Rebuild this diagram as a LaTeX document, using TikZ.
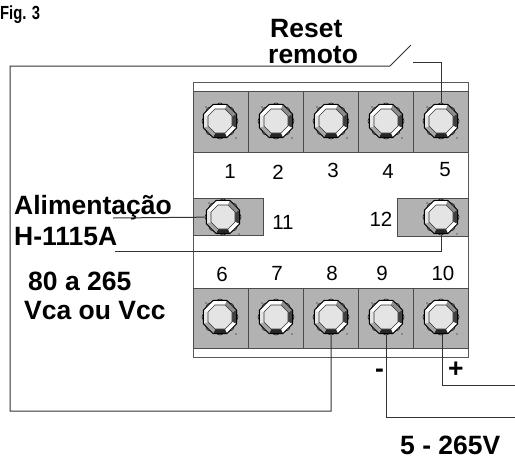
\documentclass[tikz,border=0pt]{standalone}
\usepackage{fontspec}
\setmainfont{Liberation Sans}
\usetikzlibrary{shapes.geometric}
\definecolor{cellgray}{HTML}{B2B2B2}
\definecolor{capgray}{HTML}{E4E4E4}
\tikzset{
  wire/.style={line width=1pt,color=black!80},
  outerbox/.style={line width=1pt,color=black!65},
  cell/.style={line width=1pt,draw=black!70,fill=cellgray},
  biglabel/.style={anchor=base west,font=\bfseries\fontsize{26.5}{30}\selectfont,inner sep=0},
  numlabel/.style={font=\fontsize{20.5}{24}\selectfont,inner sep=0},
  terminal/.pic={
    \node [regular polygon,regular polygon sides=8,shape border rotate=22.5,
      minimum size=36pt,inner sep=0,draw=black,line width=0.6pt,fill=white] (-c) at (0,0) {};
    \fill [black!75] (-22.5:17.5) -- (22.5:17.5) -- (22.5:13) -- (-22.5:13) -- cycle;
    \fill [white] (22.5:17.5) -- (67.5:17.5) -- (67.5:13) -- (22.5:13) -- cycle;
    \fill [black!85] (67.5:17.5) -- (112.5:17.5) -- (112.5:13) -- (67.5:13) -- cycle;
    \fill [black!35] (112.5:17.5) -- (157.5:17.5) -- (157.5:13) -- (112.5:13) -- cycle;
    \fill [black!10] (157.5:17.5) -- (202.5:17.5) -- (202.5:13) -- (157.5:13) -- cycle;
    \fill [white] (202.5:17.5) -- (247.5:17.5) -- (247.5:13) -- (202.5:13) -- cycle;
    \fill [white] (247.5:17.5) -- (292.5:17.5) -- (292.5:13) -- (247.5:13) -- cycle;
    \fill [black!45] (292.5:17.5) -- (337.5:17.5) -- (337.5:13) -- (292.5:13) -- cycle;
    \draw [fill=capgray,line width=0.6pt,draw=black!80] (22.5:13) -- (67.5:13) -- (112.5:13) -- (157.5:13)
      -- (202.5:13) -- (247.5:13) -- (292.5:13) -- (337.5:13) -- cycle;
    \draw [line width=0.8pt] (22.5:18) -- (67.5:18) -- (112.5:18) -- (157.5:18)
      -- (202.5:18) -- (247.5:18) -- (292.5:18) -- (337.5:18) -- cycle;
    \fill (-14,-14) circle [radius=0.7];
    \fill (16,17) circle [radius=0.7];
  }
}

\begin{document}
\begin{tikzpicture}[x=1pt,y=-1pt]
\useasboundingbox (0,0) rectangle (515,459);
\draw [outerbox] (193,82) rectangle (468,357);
\draw [cell] (193,91) rectangle (248,152);
\draw [cell] (248,91) rectangle (303,152);
\draw [cell] (303,91) rectangle (358,152);
\draw [cell] (358,91) rectangle (413,152);
\draw [cell] (413,91) rectangle (468,152);
\draw [cell] (193,198) rectangle (263,235);
\draw [cell] (397,198) rectangle (468,236);
\draw [cell] (193,288) rectangle (248,348);
\draw [cell] (248,288) rectangle (303,348);
\draw [cell] (303,288) rectangle (358,348);
\draw [cell] (358,288) rectangle (413,348);
\draw [cell] (413,288) rectangle (468,348);
\pic (t1) at (220,121) {terminal};
\pic (t2) at (276,121) {terminal};
\pic (t3) at (331,121) {terminal};
\pic (t4) at (386,121) {terminal};
\pic (t5) at (441,121) {terminal};
\pic (t11) at (223,217) {terminal};
\pic (t12) at (441,217) {terminal};
\pic (t6) at (220,317) {terminal};
\pic (t7) at (276,317) {terminal};
\pic (t8) at (331,317) {terminal};
\pic (t9) at (386,317) {terminal};
\pic (t10) at (441,317) {terminal};
\node [numlabel] (n1) at (230,171) {1};
\node [numlabel] (n2) at (278,172) {2};
\node [numlabel] (n3) at (333,170) {3};
\node [numlabel] (n4) at (388,171) {4};
\node [numlabel] (n5) at (445,170) {5};
\node [numlabel] (n6) at (222,274) {6};
\node [numlabel] (n7) at (277,273) {7};
\node [numlabel] (n8) at (332,273) {8};
\node [numlabel] (n9) at (382,273) {9};
\node [numlabel] (n10) at (443,273) {10};
\node [numlabel] (n11) at (283,222) {11};
\node [numlabel] (n12) at (381,219) {12};
\node [anchor=base west,font=\bfseries\fontsize{19}{22}\selectfont,inner sep=0,xscale=0.78] (fig) at (0,19.5) {Fig. 3};
\node [biglabel] (reset) at (270,37) {Reset};
\node [biglabel] (remoto) at (268,63) {remoto};
\node [biglabel] (alim) at (14,214) {Alimentação};
\node [biglabel] (model) at (14,245) {H-1115A};
\node [biglabel] (range) at (28,290) {80 a 265};
\node [biglabel] (vca) at (24,319) {Vca ou Vcc};
\node [biglabel] (minus) at (375,377) {-};
\node [biglabel] (plus) at (448,377) {+};
\node [biglabel] (volts) at (400,454.5) {5 - 265V};
\coordinate (swa) at (390,66);
\coordinate (swb) at (411,45);
\coordinate (contact) at (413,62);
\coordinate (corner) at (10,411);
\coordinate (end11) at (113,218);
\coordinate (end12) at (115,251);
\coordinate (end9) at (515,417);
\coordinate (end10) at (515,385);
\draw [wire] (contact) -| (t5-c);
\draw [wire] (end11) -- (t11-c);
\draw [wire] (end12) -| (t12-c);
\draw [wire] (t8-c.south) |- (corner) |- (swa) -- (swb);
\draw [wire] ([xshift=0.7pt]t9-c.south) |- (end9);
\draw [wire] ([xshift=1.7pt]t10-c.south) |- (end10);
\end{tikzpicture}
\end{document}
